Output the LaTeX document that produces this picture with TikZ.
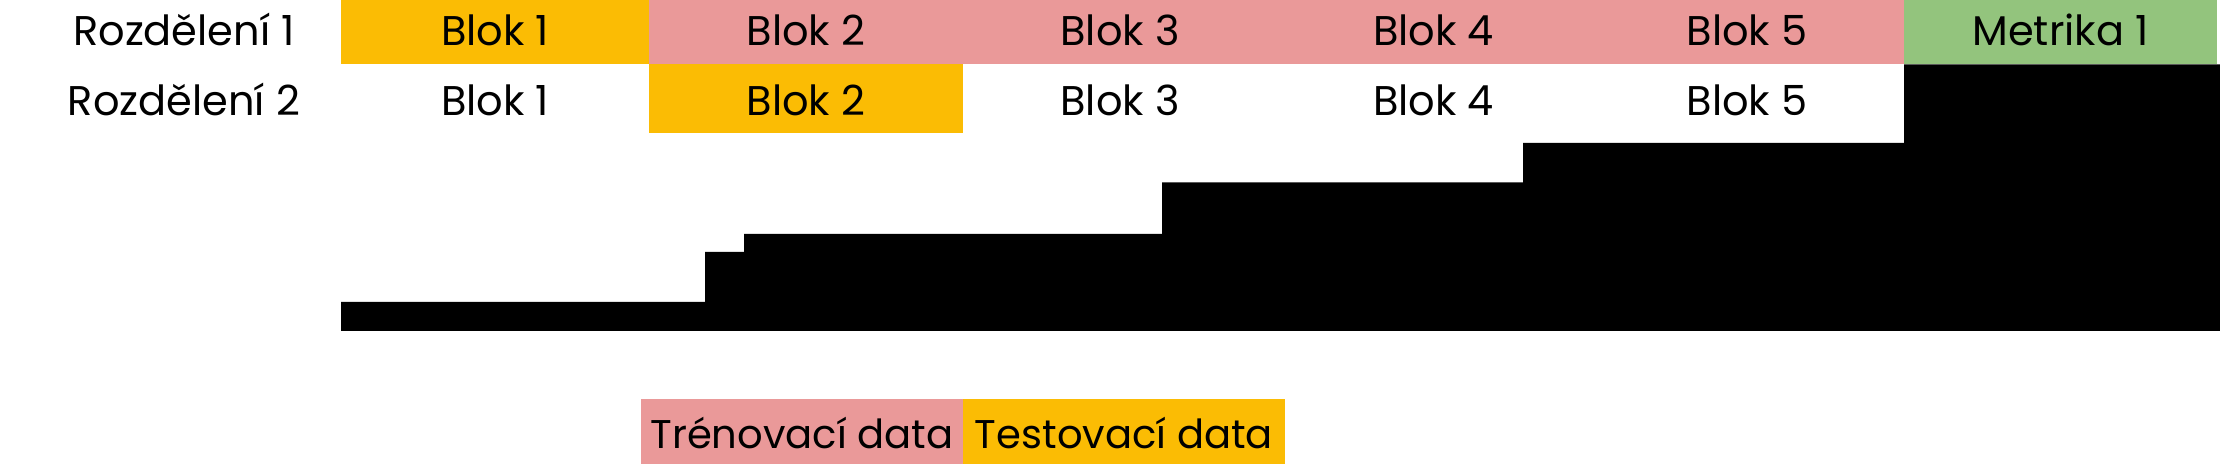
\documentclass[tikz,border=0pt]{standalone}
\usepackage{fontspec}
\setmainfont{Poppins}
\usepackage{tikz}
\definecolor{trenovaci}{HTML}{EA9999}
\definecolor{testovaci}{HTML}{FBBC04}
\definecolor{metrika}{HTML}{93C47D}

\begin{document}
\begin{tikzpicture}[x=0.01cm, y=0.01cm]
\tikzstyle{every node}+=[inner sep=0pt, text height=0.7em, text depth=0pt, font=\fontsize{11.8}{13}\selectfont]
\tikzstyle{legenda}=[font=\fontsize{11.4}{13}\selectfont]
\useasboundingbox (0,0) rectangle (2220,-464);
\fill [testovaci] (341,0) rectangle (649,-64.5);
\fill [trenovaci] (649,0) rectangle (1904,-64.5);
\fill [metrika] (1904,0) rectangle (2217,-64.5);
\fill [testovaci] (649,-64.5) rectangle (963,-133.5);
\fill [black] (1904,-64.5) -- (2220,-64.5) -- (2220,-331) -- (341,-331) -- (341,-302) -- (705,-302) -- (705,-252) -- (744,-252) -- (744,-234) -- (1162,-234) -- (1162,-182.5) -- (1523,-182.5) -- (1523,-143) -- (1904,-143) -- cycle;
\fill [trenovaci] (641,-399) rectangle (963,-464);
\fill [testovaci] (963,-399) rectangle (1285,-464);
\node (r1) at (184,-33) {Rozdělení 1};
\node (r1b1) at (495,-33) {Blok 1};
\node (r1b2) at (806,-33) {Blok 2};
\node (r1b3) at (1120,-33) {Blok 3};
\node (r1b4) at (1433.5,-33) {Blok 4};
\node (r1b5) at (1747,-33) {Blok 5};
\node (r1m) at (2060.5,-33) {Metrika 1};
\node (r2) at (184,-103) {Rozdělení 2};
\node (r2b1) at (495,-103) {Blok 1};
\node (r2b2) at (806,-103) {Blok 2};
\node (r2b3) at (1120,-103) {Blok 3};
\node (r2b4) at (1433.5,-103) {Blok 4};
\node (r2b5) at (1747,-103) {Blok 5};
\node [legenda] (trenink) at (802,-436) {Trénovací data};
\node [legenda] (testy) at (1124,-436) {Testovací data};
\end{tikzpicture}
\end{document}
